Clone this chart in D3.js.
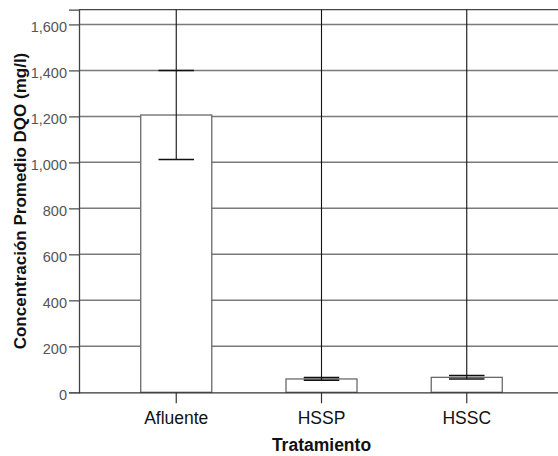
<!DOCTYPE html>
<html>
<head>
<meta charset="utf-8">
<script src="https://cdn.jsdelivr.net/npm/d3@7"></script>
<style>
    html, body { margin: 0; padding: 0; background: #fff; }
    svg { display: block; overflow: hidden; }
    text { font-family: "Liberation Sans", Arial, sans-serif; }
</style>
</head>
<body>
<svg id="chart" width="558" height="456"></svg>
<script>
"use strict";

// values
const categories = ["Afluente", "HSSP", "HSSC"];
const means = [1206, 58, 65];
const ciLow = [1013, 52, 58];
const ciHigh = [1400, 64, 73];
const yTicks = [0, 200, 400, 600, 800, 1000, 1200, 1400, 1600];
const yMax = 1664;

const svg = d3.select("#chart"),
    plotLeft = 79,
    plotRight = 564,
    plotTop = 9.7,
    plotBottom = 392.3;

const x = d3.scaleBand()
    .domain(categories)
    .range([plotLeft, plotRight])
    .paddingInner(0.511)
    .paddingOuter(0.425);

const y = d3.scaleLinear()
    .domain([0, yMax])
    .range([plotBottom, plotTop]);

// grid
svg.append("g")
    .selectAll("line")
    .data(yTicks.filter(d => d > 0))
    .join("line")
    .attr("x1", plotLeft).attr("x2", 558)
    .attr("y1", d => y(d)).attr("y2", d => y(d))
    .attr("stroke", "#7a7a7a")
    .attr("stroke-width", 1.5);

// top frame
svg.append("line")
    .attr("x1", plotLeft).attr("x2", 558)
    .attr("y1", y(yMax)).attr("y2", y(yMax))
    .attr("stroke", "#444")
    .attr("stroke-width", 1.2);

// bars
svg.append("g")
    .selectAll("rect")
    .data(categories)
    .join("rect")
    .attr("x", d => x(d))
    .attr("width", x.bandwidth())
    .attr("y", (d, i) => y(means[i]))
    .attr("height", (d, i) => y(0) - y(means[i]))
    .attr("fill", "#fff")
    .attr("stroke", "#6a6a6a")
    .attr("stroke-width", 1.3);

// error bars
const cx = d => x(d) + x.bandwidth() / 2,
    capHalf = x.bandwidth() * 0.25;

const err = svg.append("g").attr("stroke", "#111");

err.selectAll("line.stem")
    .data(categories)
    .join("line")
    .attr("class", "stem")
    .attr("x1", cx).attr("x2", cx)
    .attr("y1", y(yMax))
    .attr("y2", (d, i) => y(ciLow[i]))
    .attr("stroke-width", 1.1);

[ciLow, ciHigh].forEach(vals => {
    err.append("g")
        .selectAll("line")
        .data(categories)
        .join("line")
        .attr("x1", d => cx(d) - capHalf)
        .attr("x2", d => cx(d) + capHalf)
        .attr("y1", (d, i) => y(vals[i]))
        .attr("y2", (d, i) => y(vals[i]))
        .attr("stroke-width", 1.5);
});

// y axis
const yAxis = svg.append("g")
    .attr("transform", `translate(${plotLeft},0)`)
    .call(d3.axisLeft(y)
        .tickValues(yTicks)
        .tickFormat(d3.format(","))
        .tickSize(10)
        .tickPadding(2));

yAxis.select(".domain").attr("stroke", "#444").attr("stroke-width", 1.3);
yAxis.selectAll(".tick line").attr("stroke", "#555").attr("stroke-width", 1.3);
yAxis.selectAll(".tick text")
    .attr("font-size", 14.5)
    .attr("font-family", "Liberation Sans, Arial, sans-serif")
    .attr("fill", "#555")
    .attr("dy", "0.5em");

// x axis
const xAxis = svg.append("g")
    .attr("transform", `translate(0,${plotBottom})`)
    .call(d3.axisBottom(x).tickSize(11).tickPadding(8).tickSizeOuter(0));

xAxis.select(".domain")
    .attr("d", `M${plotLeft},0.5H558`)
    .attr("stroke", "#333")
    .attr("stroke-width", 1.3);
xAxis.selectAll(".tick line").attr("stroke", "#333").attr("stroke-width", 1.2);
xAxis.selectAll(".tick text")
    .attr("font-size", 17.5)
    .attr("font-family", "Liberation Sans, Arial, sans-serif")
    .attr("fill", "#111");

// axis titles
svg.append("text")
    .attr("x", (plotLeft + 558) / 2 + 3)
    .attr("y", 451)
    .attr("text-anchor", "middle")
    .attr("font-size", 17.5)
    .attr("font-weight", "bold")
    .attr("fill", "#111")
    .text("Tratamiento");

svg.append("text")
    .attr("transform", `translate(26,${(plotTop + plotBottom) / 2}) rotate(-90)`)
    .attr("text-anchor", "middle")
    .attr("font-size", 17)
    .attr("font-weight", "bold")
    .attr("fill", "#111")
    .text("Concentración Promedio DQO (mg/l)");
</script>
</body>
</html>
